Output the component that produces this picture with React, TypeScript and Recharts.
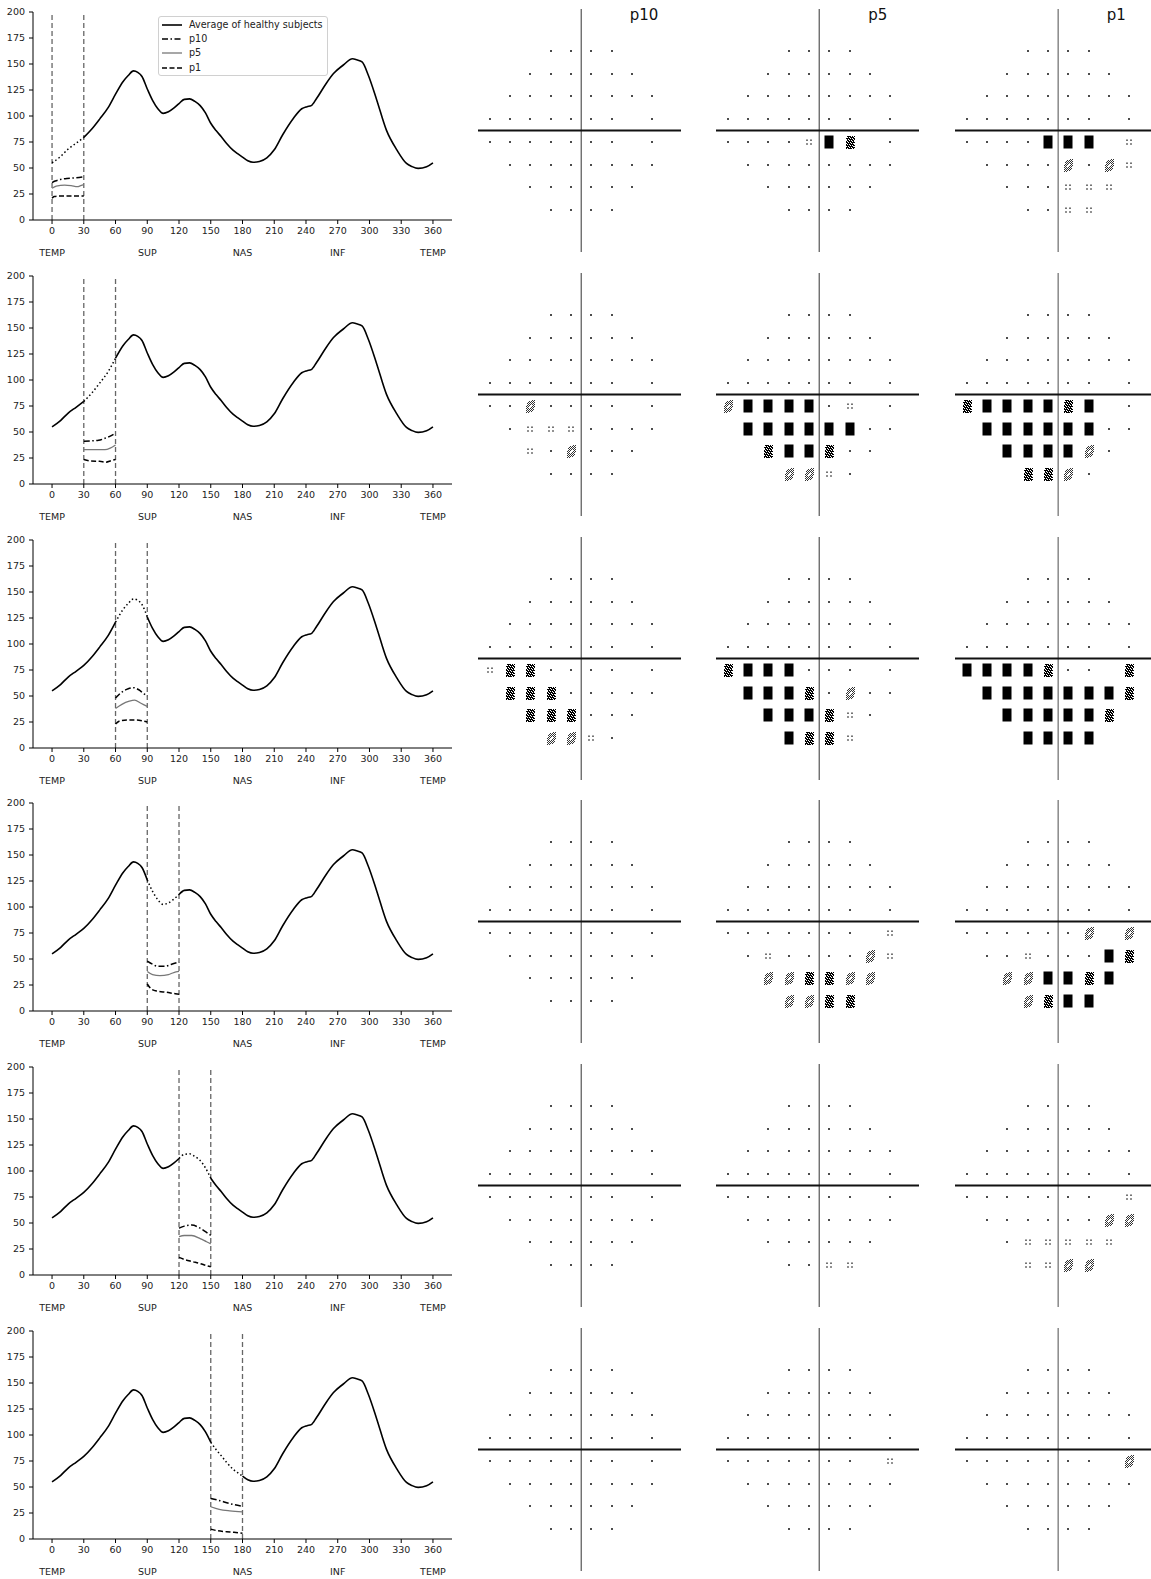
import React from "react";
import { LineChart, Line, XAxis, YAxis, ReferenceLine, ScatterChart, Scatter } from "recharts";

// average RNFL profile of healthy subjects (degrees, value)
const avgDeg = [0, 8, 15, 23, 30, 38, 45, 53, 60, 67, 72, 77, 81, 85, 90, 95, 100, 105, 110, 115, 120, 125, 130, 135, 140, 145, 150, 155, 160, 165, 171, 175, 180, 185, 190, 196, 203, 210, 218, 228, 236, 241, 245, 250, 258, 266, 275, 284, 288, 293, 299, 307, 316, 326, 335, 340, 346, 354, 360];
const avgVal = [55, 61, 68, 74, 79.4, 88, 97, 108, 121, 133, 139, 143.4, 142, 138, 126, 115, 107, 102.5, 104, 107.5, 112, 116, 116.5, 114, 110, 103, 93, 86, 80, 73.6, 67.2, 64, 60.5, 57, 55.5, 56.3, 59.8, 67.5, 82, 97.6, 107, 109, 110, 116.8, 129.6, 140.8, 148.8, 155, 154, 152, 139, 115, 86.4, 67.2, 54.4, 51.5, 49.6, 51.2, 55];

const xTicks = [0, 30, 60, 90, 120, 150, 180, 210, 240, 270, 300, 330, 360];
const yTicks = [0, 25, 50, 75, 100, 125, 150, 175, 200];
const regionAt = [0, 90, 180, 270, 360];
const regionNames = ["TEMP", "SUP", "NAS", "INF", "TEMP"];

const sectors = [[0, 30], [30, 60], [60, 90], [90, 120], [120, 150], [150, 180]];

// percentile curves inside each sector: [deg, value]
const p10Curves = [
  [[0, 36], [3, 37.5], [8, 39], [14, 40], [22, 40.5], [30, 41.5]],
  [[30, 41], [37, 41.5], [44, 42], [50, 44], [55, 46], [60, 49]],
  [[60, 48], [65, 53], [72, 57], [77, 58], [82, 56], [87, 52], [90, 50]],
  [[90, 48], [95, 45], [100, 43], [107, 43], [113, 45], [120, 47]],
  [[120, 45], [125, 47], [132, 48], [140, 45], [146, 41], [150, 38]],
  [[150, 39], [158, 37], [168, 34], [180, 31.5]],
];
const p5Curves = [
  [[0, 30.5], [4, 32.5], [12, 33.5], [18, 33], [24, 32], [27, 33], [30, 34]],
  [[30, 33], [50, 33], [55, 34.5], [60, 37.5]],
  [[60, 38], [66, 42], [73, 45], [78, 46], [84, 43], [90, 40]],
  [[90, 38], [95, 35], [102, 34], [110, 35], [115, 37], [120, 38]],
  [[120, 37], [125, 38], [132, 38], [140, 35], [146, 32], [150, 30]],
  [[150, 31], [158, 28.5], [168, 27], [180, 26]],
];
const p1Curves = [
  [[0, 21], [2, 22.5], [6, 23], [30, 23]],
  [[30, 23.5], [37, 22], [45, 21.8], [51, 21], [56, 22.5], [60, 23.5]],
  [[60, 23], [64, 26], [72, 27], [80, 27], [86, 26], [90, 25]],
  [[90, 26], [94, 21], [100, 19], [108, 18], [114, 17], [120, 16]],
  [[120, 17], [125, 15], [132, 13], [140, 11], [146, 9], [150, 8]],
  [[150, 9.5], [156, 8], [165, 7], [172, 6.5], [180, 5.5]],
];

// 24-2 test grid (blind spot removed)
const vfRowY = [21, 15, 9, 3, -3, -9, -15, -21];
const vfRowX = [
  [-9, -3, 3, 9],
  [-15, -9, -3, 3, 9, 15],
  [-21, -15, -9, -3, 3, 9, 15, 21],
  [-27, -21, -15, -9, -3, 3, 9, 21],
  [-27, -21, -15, -9, -3, 3, 9, 21],
  [-21, -15, -9, -3, 3, 9, 15, 21],
  [-15, -9, -3, 3, 9, 15],
  [-9, -3, 3, 9],
];
// lower hemifield levels (rows -3,-9,-15,-21); 0 dot, 1 p<5, 2 p<2, 3 p<1, 4 p<0.5
const vf0to30 = [
  ["00000000", "00000000", "000000", "0000"],
  ["00001430", "00000000", "000000", "0000"],
  ["00004441", "00002021", "000111", "0011"],
];
const vf30to60 = [
  ["00200000", "01110000", "102000", "0000"],
  ["24444010", "44444400", "344300", "2210"],
  ["34444340", "44444400", "444420", "3320"],
];
const vf60to90 = [
  ["13300000", "33300000", "333000", "2210"],
  ["34440000", "44430200", "444310", "4331"],
  ["44443003", "44444443", "444443", "4444"],
];
const vf90to120 = [
  ["00000000", "00000000", "000000", "0000"],
  ["00000001", "01000021", "223322", "2233"],
  ["00000022", "00100043", "224434", "2344"],
];
const vf120to150 = [
  ["00000000", "00000000", "000000", "0000"],
  ["00000000", "00000000", "000000", "0011"],
  ["00000001", "00000022", "011111", "1122"],
];
const vf150to180 = [
  ["00000000", "00000000", "000000", "0000"],
  ["00000001", "00000000", "000000", "0000"],
  ["00000002", "00000000", "000000", "0000"],
];
const vfRows = [vf0to30, vf30to60, vf60to90, vf90to120, vf120to150, vf150to180];
const panelNames = ["p10", "p5", "p1"];
const panelCenters = [581, 819.5, 1058];

const FONT = "DejaVu Sans, sans-serif";
const ROW_H = 263.8;

const styles = {
  avg: { stroke: "#000", strokeWidth: 1.6 },
  dotted: { stroke: "#000", strokeWidth: 1.5, strokeDasharray: "1.5 2.5" },
  p10: { stroke: "#000", strokeWidth: 1.5, strokeDasharray: "6 2.5 1.5 2.5" },
  p5: { stroke: "#777", strokeWidth: 1.3 },
  p1: { stroke: "#000", strokeWidth: 1.5, strokeDasharray: "5 2.5" },
};

const toPts = (arr: number[][]) => arr.map(([x, y]) => ({ x, y }));

function AxisTick(props: any) {
  const { x, y, payload } = props;
  const idx = regionAt.indexOf(payload.value);
  return (
    <g>
      <text x={x} y={y + 7} textAnchor="middle" fontSize={9.5} fontFamily={FONT} fill="#222">
        {payload.value}
      </text>
      {idx >= 0 && (
        <text x={x} y={y + 28.5} textAnchor="middle" fontSize={9.5} fontFamily={FONT} fill="#222">
          {regionNames[idx]}
        </text>
      )}
    </g>
  );
}

function pixPath(x0: number, y0: number, w: number, h: number, fn: (i: number, j: number) => boolean) {
  let d = "";
  for (let j = 0; j < h; j++) for (let i = 0; i < w; i++) if (fn(i, j)) d += `M${x0 + i} ${y0 + j}h1v1h-1z`;
  return d;
}

// diagonal oval mask used by the textured symbols
function inOval(i: number, j: number, ra: number, rb: number) {
  const u = i - 4;
  const v = j - 6;
  const a = u * 0.6 - v * 0.8;
  const b = u * 0.8 + v * 0.6;
  return (a / ra) ** 2 + (b / rb) ** 2 <= 1;
}

function vfShape(props: any) {
  const { cx, cy, payload } = props;
  const x0 = Math.round(cx);
  const y0 = Math.round(cy);
  const lv = payload.level;
  if (lv === 0) return <rect x={x0 - 0.9} y={y0 - 0.9} width={1.8} height={1.8} fill="#222" />;
  if (lv === 1)
    return (
      <g fill="#222">
        <rect x={x0 - 2.7} y={y0 - 2.5} width={1.4} height={1.4} />
        <rect x={x0 + 1.3} y={y0 - 2.5} width={1.4} height={1.4} />
        <rect x={x0 - 2.7} y={y0 + 1.3} width={1.4} height={1.4} />
        <rect x={x0 + 1.3} y={y0 + 1.3} width={1.4} height={1.4} />
      </g>
    );
  if (lv === 2)
    return (
      <path
        d={pixPath(x0 - 4, y0 - 6, 9, 13, (i, j) => (i + j) % 2 === 0 && inOval(i, j, 7.8, 4.4) && !inOval(i, j, 2.6, 1.1))}
        fill="#333"
      />
    );
  if (lv === 3)
    return (
      <path
        d={pixPath(x0 - 4, y0 - 6, 9, 13, (i, j) => (i * 3 + j * 5) % 7 >= 2 && !((i === 0 || i === 8) && j % 3 === 1))}
        fill="#000"
      />
    );
  return <rect x={x0 - 4.5} y={y0 - 6.5} width={9} height={13} fill="#000" />;
}

function buildVf(levels: string[]) {
  const pts: { x: number; y: number; level: number }[] = [];
  vfRowY.forEach((y, r) => {
    vfRowX[r].forEach((x, c) => {
      const level = r < 4 ? 0 : Number(levels[r - 4][c]);
      pts.push({ x, y, level });
    });
  });
  return pts;
}

function VfPanel({ levels, k, showTitle }: { levels: string[]; k: number; showTitle: boolean }) {
  const left = panelCenters[k] - 103.2;
  return (
    <div style={{ position: "absolute", left, top: 0, width: 203, height: 263 }}>
      <ScatterChart width={203} height={263} margin={{ top: 9, right: 0, bottom: 11, left: 0 }}>
        <XAxis dataKey="x" type="number" domain={[-30.5, 29.5]} hide allowDataOverflow />
        <YAxis dataKey="y" type="number" domain={[-32, 32]} hide allowDataOverflow />
        <ReferenceLine x={0} stroke={k === 2 ? "#888" : "#333"} strokeWidth={k === 2 ? 1.5 : 1} />
        <ReferenceLine y={0} stroke="#111" strokeWidth={2} />
        <Scatter data={buildVf(levels)} shape={vfShape} isAnimationActive={false} />
      </ScatterChart>
      {showTitle && (
        <div style={{ position: "absolute", left: 152, top: 8.3, fontSize: 15, lineHeight: "15px", fontFamily: FONT, color: "#111" }}>
          {panelNames[k]}
        </div>
      )}
    </div>
  );
}

function LegendBox() {
  const items = [
    { label: "Average of healthy subjects", s: styles.avg },
    { label: "p10", s: styles.p10 },
    { label: "p5", s: styles.p5 },
    { label: "p1", s: styles.p1 },
  ];
  return (
    <div style={{ position: "absolute", left: 158, top: 16, width: 170, height: 60, border: "1px solid #d0d0d0", borderRadius: 3, background: "#fff", boxSizing: "border-box" }}>
      {items.map((it, i) => (
        <div key={i} style={{ position: "absolute", left: 0, top: 8 + i * 14.2 - 7, height: 14, width: 168 }}>
          <svg width={26} height={14} style={{ position: "absolute", left: 3, top: 0 }}>
            <line x1={0} x2={20} y1={7} y2={7} {...it.s} />
          </svg>
          <span style={{ position: "absolute", left: 30, top: 0, fontSize: 9.6, lineHeight: "14px", fontFamily: FONT, color: "#222", whiteSpace: "nowrap" }}>
            {it.label}
          </span>
        </div>
      ))}
    </div>
  );
}

function Row({ index }: { index: number }) {
  const [lo, hi] = sectors[index];
  const avg = avgDeg.map((d, i) => ({ x: d, y: avgVal[i] }));
  const before = avg.filter((p) => p.x <= lo);
  const inside = avg.filter((p) => p.x >= lo && p.x <= hi);
  const after = avg.filter((p) => p.x >= hi);
  const top = Math.round(index * ROW_H);
  return (
    <div style={{ position: "absolute", left: 0, top, width: 1151, height: 264 }}>
      <LineChart width={460} height={263} margin={{ top: 12, right: 8, bottom: 0, left: 0 }}>
        <XAxis
          dataKey="x"
          type="number"
          domain={[-18, 378]}
          ticks={xTicks}
          allowDataOverflow
          height={43}
          tickSize={4}
          tickMargin={3}
          tick={<AxisTick />}
          stroke="#000"
        />
        <YAxis
          type="number"
          domain={[0, 200]}
          ticks={yTicks}
          width={33}
          tickSize={4}
          tickMargin={4}
          stroke="#000"
          tick={{ fontSize: 9.5, fontFamily: FONT, fill: "#222" }}
          allowDataOverflow
        />
        <ReferenceLine x={lo} stroke="#666" strokeWidth={1.3} strokeDasharray="5 3" />
        <ReferenceLine x={hi} stroke="#666" strokeWidth={1.3} strokeDasharray="5 3" />
        {before.length > 1 && <Line data={before} dataKey="y" type="monotone" dot={false} activeDot={false} isAnimationActive={false} {...styles.avg} />}
        <Line data={inside} dataKey="y" type="monotone" dot={false} activeDot={false} isAnimationActive={false} {...styles.dotted} />
        <Line data={after} dataKey="y" type="monotone" dot={false} activeDot={false} isAnimationActive={false} {...styles.avg} />
        <Line data={toPts(p10Curves[index])} dataKey="y" type="monotone" dot={false} activeDot={false} isAnimationActive={false} {...styles.p10} />
        <Line data={toPts(p5Curves[index])} dataKey="y" type="monotone" dot={false} activeDot={false} isAnimationActive={false} {...styles.p5} />
        <Line data={toPts(p1Curves[index])} dataKey="y" type="monotone" dot={false} activeDot={false} isAnimationActive={false} {...styles.p1} />
      </LineChart>
      {index === 0 && <LegendBox />}
      {vfRows[index].map((levels, k) => (
        <VfPanel key={k} levels={levels} k={k} showTitle={index === 0} />
      ))}
    </div>
  );
}

export default function App() {
  return (
    <div style={{ position: "relative", width: 1151, height: 1579, overflow: "hidden", background: "#fff" }}>
      <style>{`body{margin:0;}`}</style>
      {sectors.map((_, i) => (
        <Row key={i} index={i} />
      ))}
    </div>
  );
}
